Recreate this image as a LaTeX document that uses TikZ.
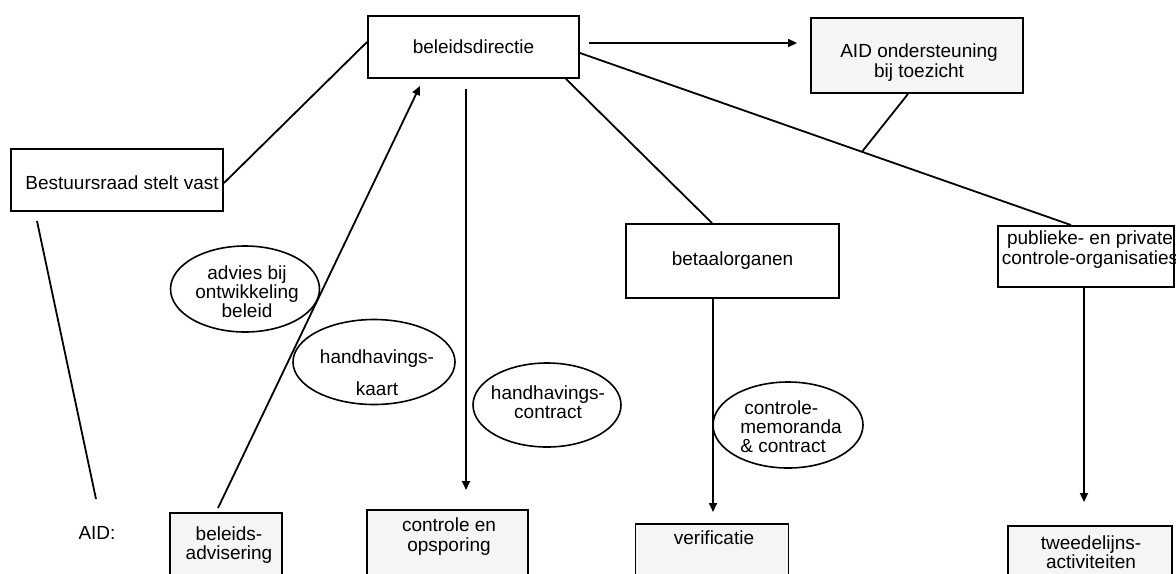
\documentclass[tikz,border=0pt]{standalone}
\usepackage{fontspec}
\setmainfont{Liberation Sans}
\usetikzlibrary{arrows.meta,shapes.geometric,calc}
\begin{document}
\begin{tikzpicture}[x=0.5pt,y=-0.5pt,
  every node/.style={font=\fontsize{9.5}{9.6}\selectfont},
  box/.style={draw,line width=0.95pt,rectangle,inner sep=0pt},
  aidbox/.style={box,fill=black!4},
  oval/.style={draw,ellipse,line width=0.8pt,inner sep=0pt},
  txt/.style={align=center,inner sep=0pt},
  con/.style={line width=0.9pt},
  arr/.style={con,-{Triangle[length=4.5pt,width=4pt]}}]
\useasboundingbox (0,0) rectangle (1176,573);

% top boxes
\node[box,minimum width=106pt,minimum height=31pt] (bestuur) at (117,180) {};
\node[txt] (bestuurt) at (122,183) {Bestuursraad stelt vast};
\node[box,minimum width=105.5pt,minimum height=31pt] (beleid) at (473.5,47) {beleidsdirectie};
\node[aidbox,minimum width=106pt,minimum height=37.5pt] (aidond) at (917,55.5) {};
\node[txt] (aidondt) at (919,62.5) {AID ondersteuning\\bij toezicht};
\node[box,minimum width=106.5pt,minimum height=37pt] (betaal) at (732.5,261) {betaalorganen};
\node[box,minimum width=88pt,minimum height=30.5pt] (publiek) at (1086,256.5) {};
\node[txt] (publiekt) at (1090,249.5) {publieke- en private\\controle-organisaties};

% bottom boxes
\node[txt] (aidlbl) at (97,533) {AID:};
\node[aidbox,minimum width=56pt,minimum height=45pt,anchor=north] (badv) at (226,512) {};
\node[txt] (badvt) at (229,545) {beleids-\\advisering};
\node[aidbox,minimum width=80.5pt,minimum height=45pt,anchor=north] (ctrl) at (447.5,509) {};
\node[txt] (ctrlt) at (449,536.5) {controle en\\opsporing};
\node[aidbox,minimum width=76.5pt,minimum height=40pt,anchor=north] (verif) at (712,523) {};
\node[txt] (veriftxt) at (714,538) {verificatie};
\node[aidbox,minimum width=82pt,minimum height=40pt,anchor=north] (twee) at (1090,525) {};
\node[txt] (tweet) at (1091,552) {tweedelijns-\\activiteiten};

% ellipses
\node[oval,minimum width=74.5pt,minimum height=43pt] (advies) at (245,289) {};
\node[txt] (adviest) at (247,292) {advies bij\\ontwikkeling\\beleid};
\node[oval,minimum width=81pt,minimum height=42.5pt] (kaart) at (374,362) {};
\node[txt] (kaartt) at (377,373) {handhavings-\\[6.5pt]kaart};
\node[oval,minimum width=74pt,minimum height=42pt] (contract) at (547,405) {};
\node[txt] (contractt) at (548,402) {handhavings-\\contract};
\node[oval,minimum width=75pt,minimum height=43pt] (memo) at (788,425) {};
\node[txt,align=left] (memot) at (791,427) {\hspace*{2pt}controle-\\memoranda\\\& contract};

% connectors
\draw[con] ($(bestuur.east)+(0,3)$) -- ($(beleid.west)+(0,-5)$);
\coordinate (la) at (37,221);
\coordinate (lb) at (96,499);
\draw[con] (la) -- (lb);
\draw[arr] ($(badv.north)+(-8,-4)$) -- ($(beleid.south)+(-53.5,7)$);
\draw[arr] ($(beleid.south)+(-7.5,10)$) -- ($(ctrl.north)+(18.5,-19)$);
\draw[arr] ($(beleid.east)+(9,-4)$) -- ($(beleid.east -| aidond.west)+(-13,-4)$);
\draw[con] ($(beleid.south)+(92.5,0)$) -- ($(betaal.north)+(-20.5,0)$);
\draw[con] ($(beleid.east)+(0,6)$) coordinate (dg1) -- ($(publiek.north)+(-15,0)$) coordinate (dg2);
\draw[con] ($(aidond.south)+(-9,0)$) -- ($(dg1)!0.5743!(dg2)$);
\draw[arr] ($(betaal.south)+(-19.5,0)$) -- ($(verif.north)+(1,-11)$);
\draw[arr] ($(publiek.south)+(-2,0)$) -- ($(twee.north)+(-6,-23)$);
\end{tikzpicture}
\end{document}
